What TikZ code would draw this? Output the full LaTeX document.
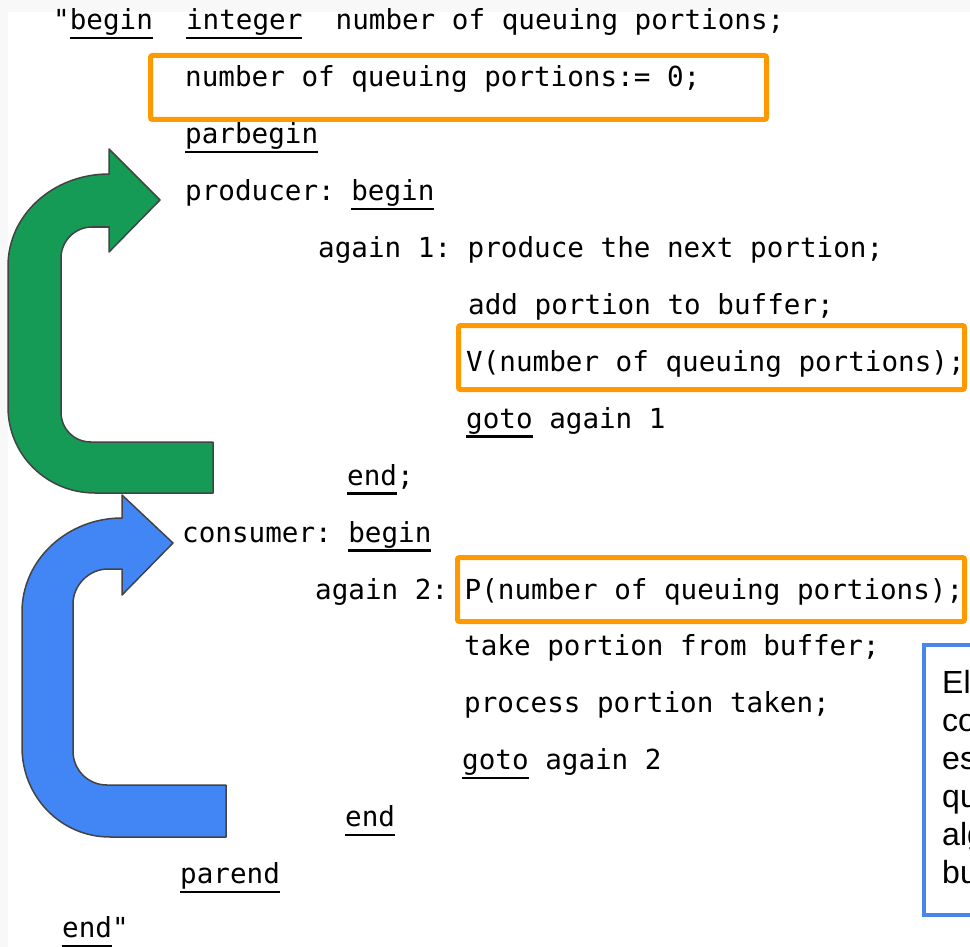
\documentclass[tikz,border=0pt]{standalone}
\usepackage{fontspec}
\setmainfont{Liberation Sans}
\newfontfamily\typewriter{DejaVu Sans Mono}
\usepackage{xcolor}
\definecolor{pagegray}{RGB}{248,248,248}
\definecolor{qorange}{RGB}{255,153,0}
\definecolor{prodgreen}{RGB}{21,155,86}
\definecolor{consblue}{RGB}{66,133,244}
\definecolor{notebl}{RGB}{74,134,232}
\definecolor{edgegray}{RGB}{67,67,67}
\frenchspacing
% underlined keyword, as on the typewriter
\newcommand{\kw}[1]{\setbox0=\hbox{#1}\rlap{\rule[-9.5pt]{\wd0}{2.4pt}}\box0\relax}

\begin{document}
\begin{tikzpicture}[x=1pt, y=-1pt,
  code/.style={font=\typewriter\fontsize{27.6}{33}\selectfont, anchor=base west, inner sep=0pt},
  note/.style={font=\fontsize{32}{38}\selectfont, anchor=base west, inner sep=0pt},
  qbox/.style={draw=qorange, line width=5pt, rounded corners=2pt},
  uarrow/.style={draw=edgegray, line width=1.5pt, line join=round}]
  \useasboundingbox (0,0) rectangle (970,947);
  \clip (0,0) rectangle (970,947);
  \fill[pagegray] (0,0) rectangle (970,947);
  \fill[white] (8,12) rectangle (970,947);
  % Semaphore boxes
  \draw[qbox] (150.5,55.5) rectangle (766.5,119.5);
  \draw[qbox] (458.5,325.5) rectangle (964.5,389.5);
  \draw[qbox] (457.5,557.5) rectangle (964.5,621.5);
  % Program text
  \node[code] (l0) at (53,30) {"\kw{begin}~~\kw{integer}~~number of queuing portions;};
  \node[code] (l1) at (185,86.9) {number of queuing portions:= 0;};
  \node[code] (l2) at (185,143.8) {\kw{parbegin}};
  \node[code] (l3) at (185,200.7) {producer: \kw{begin}};
  \node[code] (l4) at (318,257.6) {again 1: produce the next portion;};
  \node[code] (l5) at (468,314.5) {add portion to buffer;};
  \node[code] (l6) at (466,371.4) {V(number of queuing portions);};
  \node[code] (l7) at (466,428.3) {\kw{goto} again 1};
  \node[code] (l8) at (347,485.2) {\kw{end};};
  \node[code] (l9) at (182,542.1) {consumer: \kw{begin}};
  \node[code] (l10) at (315,599) {again 2: P(number of queuing portions);};
  \node[code] (l11) at (464,655.9) {take portion from buffer;};
  \node[code] (l12) at (464,712.8) {process portion taken;};
  \node[code] (l13) at (462,769.7) {\kw{goto} again 2};
  \node[code] (l14) at (345,826.6) {\kw{end}};
  \node[code] (l15) at (180,883.5) {\kw{parend}};
  \node[code] (l16) at (62,937.5) {\kw{end}"};
  % Consumer loop
  \draw[uarrow, fill=consblue] (173,543) -- (122,495) -- (122,518)
    .. controls (67,518) and (22,560) .. (22,612) -- (22,747)
    .. controls (22,797) and (61,837) .. (110,837) -- (226,837) -- (226,785)
    -- (107,785) .. controls (88,785) and (73,770) .. (73,751) -- (73,604)
    .. controls (73,585) and (89,569) .. (108,569) -- (122,569) -- (122,595) -- cycle;
  % Producer loop
  \draw[uarrow, fill=prodgreen] (160,200) -- (109,149) -- (109,174)
    .. controls (53,174) and (8,215) .. (8,266) -- (8,407)
    .. controls (8,455) and (47,493) .. (95,493) -- (213,493) -- (213,442)
    -- (91,442) .. controls (74,442) and (61,429) .. (61,412) -- (61,258)
    .. controls (61,241) and (75,227) .. (92,227) -- (109,227) -- (109,252) -- cycle;
  % Note, cut at the right edge
  \draw[draw=notebl, line width=3.5pt] (924,645) rectangle (1100,915);
  \foreach \w [count=\i from 0] in {El,co,es,qu,alg,bu}
    \node[note] (n\i) at (942,693+38*\i) {\w};
\end{tikzpicture}
\end{document}
